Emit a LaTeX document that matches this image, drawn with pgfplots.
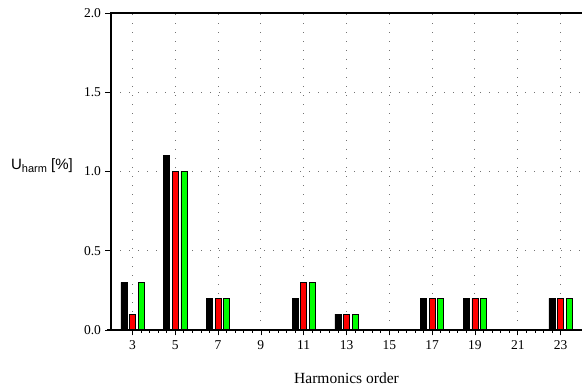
\documentclass[border=0pt]{standalone}
\usepackage{pgfplots}
\pgfplotsset{compat=1.18}
\usepackage{fontspec}
\setmainfont{Liberation Serif}
\newfontfamily\arialfont{Liberation Sans}
\definecolor{myred}{RGB}{255,0,0}
\definecolor{mygreen}{RGB}{0,255,0}
\begin{document}
\begin{tikzpicture}
\useasboundingbox (0,0) rectangle (582bp,390bp);
\begin{axis}[
  at={(111bp,60bp)}, anchor=south west,
  scale only axis, width=471bp, height=317bp,
  xmin=2, xmax=24, ymin=0, ymax=2,
  axis line style={draw=none},
  xtick={3,5,...,23},
  minor x tick num=4,
  ytick={0,0.5,1,1.5,2},
  xtick pos=bottom, ytick pos=left,
  tick align=outside,
  major tick length=5.5bp, minor tick length=3bp,
  tick style={black, line width=0.7bp},
  yticklabel style={xshift=-1bp, /pgf/number format/fixed, /pgf/number format/fixed zerofill, /pgf/number format/precision=1},
  /pgf/number format/assume math mode=true,
  ticklabel style={font=\fontsize{13.5bp}{15bp}\selectfont},
  xticklabel style={yshift=-2bp},
  grid=major,
  major grid style={black!55, line width=1bp, dash pattern=on 1bp off 8bp},
  xlabel={Harmonics order},
  xlabel style={at={(rel axis cs:0.5,0)}, anchor=center, yshift=-48bp, font=\fontsize{15.5bp}{18bp}\selectfont},
  ylabel={U{\fontsize{11bp}{12bp}\selectfont\raisebox{-3bp}{harm}} [\%]},
  ylabel style={rotate=-90, at={(rel axis cs:0,0.52)}, anchor=center, xshift=-69bp, font=\arialfont\fontsize{15bp}{17bp}\selectfont},
  ybar, bar width=6bp,
  clip=false,
]
\addplot[fill=black, draw=black, line width=0.4bp, bar shift=-8.6bp] coordinates {
(3,0.3) (5,1.1) (7,0.2) (9,0) (11,0.2) (13,0.1) (15,0) (17,0.2) (19,0.2) (21,0) (23,0.2)};
\addplot[fill=myred, draw=black, line width=0.6bp, bar shift=0bp] coordinates {
(3,0.1) (5,1.0) (7,0.2) (9,0) (11,0.3) (13,0.1) (15,0) (17,0.2) (19,0.2) (21,0) (23,0.2)};
\addplot[fill=mygreen, draw=black, line width=0.6bp, bar shift=8.6bp] coordinates {
(3,0.3) (5,1.0) (7,0.2) (9,0) (11,0.3) (13,0.1) (15,0) (17,0.2) (19,0.2) (21,0) (23,0.2)};
\draw[black, line width=1.2bp] (rel axis cs:0,0) -- (rel axis cs:0,1) -- (rel axis cs:1,1);
\draw[black, line width=1.2bp] ([xshift=-4bp]rel axis cs:0,0) -- (rel axis cs:1,0);
\end{axis}
\end{tikzpicture}
\end{document}
